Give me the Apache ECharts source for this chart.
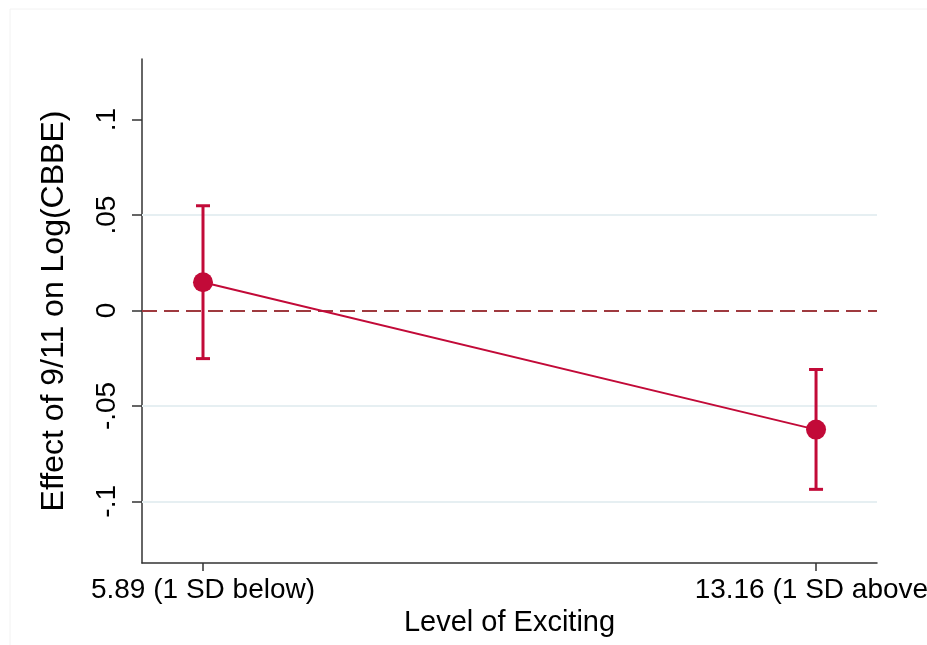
<!DOCTYPE html>
<html>
<head>
<meta charset="utf-8">
<script src="https://cdn.jsdelivr.net/npm/echarts@6/dist/echarts.min.js"></script>
<style>
html,body{margin:0;padding:0;background:#fff;}
#c{width:927px;height:645px;}
</style>
</head>
<body>
<div id="c"></div>
<script>
// Data
var levels = [5.89, 13.16];
var levelLabels = ['5.89 (1 SD below)', '13.16 (1 SD above)'];
var effects = [0.0148, -0.0624];
var ciLow = [-0.0252, -0.0937];
var ciHigh = [0.0549, -0.0309];
var yTicks = [-0.1, -0.05, 0, 0.05, 0.1];
var yTickLabels = ['-.1', '-.05', '0', '.05', '.1'];
var gridValues = [-0.1, -0.05, 0.05];

var RED = '#c20a38';
var FONT = 'Liberation Sans, Arial, Helvetica, sans-serif';

var chart = echarts.init(document.getElementById('c'), null, {renderer: 'canvas'});

var pointData = levels.map(function (x, i) { return [x, effects[i]]; });
var ciData = levels.map(function (x, i) { return [x, ciLow[i], ciHigh[i]]; });

var option = {
  backgroundColor: '#ffffff',
  animation: false,
  textStyle: {fontFamily: FONT},
  graphic: [
    {type: 'line', shape: {x1: 10, y1: 9, x2: 927, y2: 9}, style: {stroke: '#f2f2f2', lineWidth: 1}},
    {type: 'line', shape: {x1: 10, y1: 9, x2: 10, y2: 645}, style: {stroke: '#f2f2f2', lineWidth: 1}}
  ],
  grid: {left: 142, right: 50, top: 59, bottom: 82, containLabel: false, outerBoundsMode: 'none'},
  xAxis: {
    type: 'value',
    min: 5.1666,
    max: 13.883,
    name: 'Level of Exciting',
    nameLocation: 'middle',
    nameGap: 44,
    nameTextStyle: {fontSize: 29, color: '#000', fontFamily: FONT},
    axisLine: {show: true, onZero: false, lineStyle: {color: '#333', width: 1.5}},
    axisTick: {show: true, length: 8, customValues: levels, lineStyle: {color: '#333', width: 1.5}},
    axisLabel: {
      customValues: levels,
      margin: 13,
      fontSize: 28,
      color: '#000',
      fontFamily: FONT,
      formatter: function (v) {
        for (var i = 0; i < levels.length; i++) {
          if (Math.abs(v - levels[i]) < 1e-6) return levelLabels[i];
        }
        return '';
      }
    },
    splitLine: {show: false}
  },
  yAxis: {
    type: 'value',
    min: -0.1323,
    max: 0.1318,
    name: 'Effect of 9/11 on Log(CBBE)',
    nameLocation: 'middle',
    nameRotate: 90,
    nameGap: 72,
    nameTextStyle: {fontSize: 32, color: '#000', fontFamily: FONT},
    axisLine: {show: true, onZero: false, lineStyle: {color: '#333', width: 1.5}},
    axisTick: {show: true, length: 10, customValues: yTicks, lineStyle: {color: '#333', width: 1.5}},
    axisLabel: {
      customValues: yTicks,
      rotate: 90,
      margin: 21,
      fontSize: 28,
      color: '#000',
      fontFamily: FONT,
      formatter: function (v) {
        for (var i = 0; i < yTicks.length; i++) {
          if (Math.abs(v - yTicks[i]) < 1e-9) return yTickLabels[i];
        }
        return '';
      }
    },
    splitLine: {show: false}
  },
  series: [
    {
      type: 'line',
      data: pointData,
      symbol: 'circle',
      symbolSize: 20,
      itemStyle: {color: RED},
      lineStyle: {color: RED, width: 2},
      z: 5,
      markLine: {
        silent: true,
        symbol: 'none',
        label: {show: false},
        data: gridValues.map(function (v) {
          return {yAxis: v, lineStyle: {color: '#e6eff2', width: 2, type: 'solid'}};
        }).concat([
          {yAxis: 0, lineStyle: {color: '#9f3a3f', width: 2, type: [15, 7]}}
        ]),
        z: 1
      }
    },
    {
      type: 'custom',
      data: ciData,
      z: 4,
      renderItem: function (params, api) {
        var x = api.value(0);
        var lo = api.coord([x, api.value(1)]);
        var hi = api.coord([x, api.value(2)]);
        var hw = 7;
        var st = {stroke: RED, lineWidth: 3, fill: null};
        return {
          type: 'group',
          children: [
            {type: 'line', shape: {x1: lo[0], y1: lo[1], x2: hi[0], y2: hi[1]}, style: st},
            {type: 'line', shape: {x1: hi[0] - hw, y1: hi[1], x2: hi[0] + hw, y2: hi[1]}, style: st},
            {type: 'line', shape: {x1: lo[0] - hw, y1: lo[1], x2: lo[0] + hw, y2: lo[1]}, style: st}
          ]
        };
      }
    }
  ]
};
chart.setOption(option);
</script>
</body>
</html>
